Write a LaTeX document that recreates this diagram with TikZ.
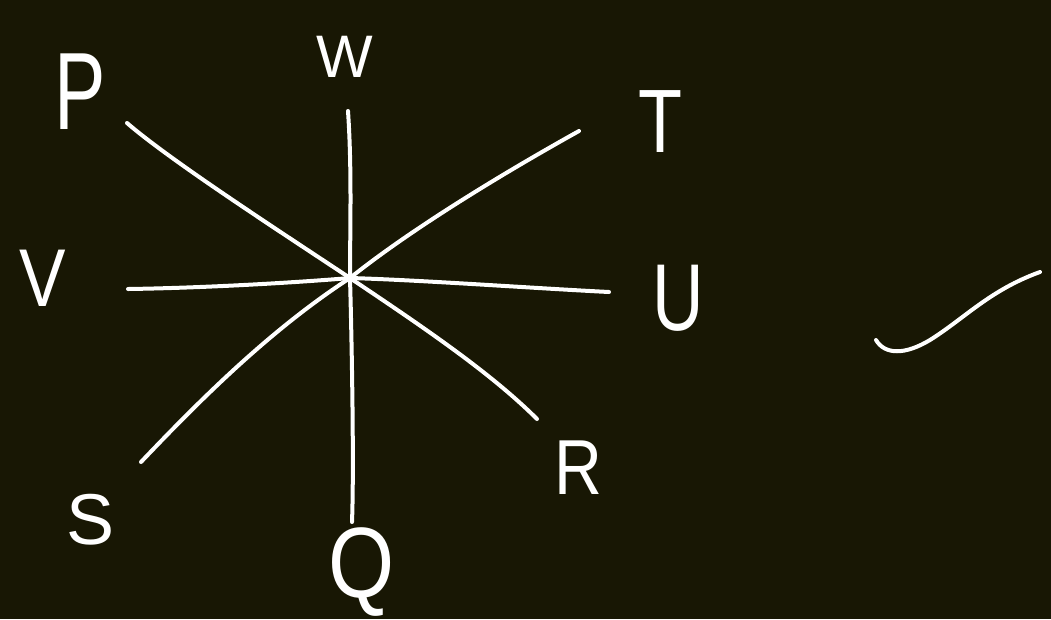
\documentclass[tikz,border=0pt]{standalone}
\usepackage{fontspec}
\setmainfont{Liberation Sans}
\definecolor{bg}{RGB}{24,23,4}
\newcommand{\fsz}[1]{\fontsize{#1}{#1}\selectfont}
\tikzset{
  stroke/.style={draw=white, line width=4pt, line cap=round, line join=round},
  lbl/.style={text=white, font=\fsz{62}, inner sep=0pt, anchor=center}
}
\begin{document}
\begin{tikzpicture}[x=1pt,y=-1pt]
\fill[bg] (0,0) rectangle (1051,619);
\useasboundingbox (0,0) rectangle (1051,619);
% centre and free ends
\coordinate (C) at (350,278);
\coordinate (eW) at (348,111);
\coordinate (eQ) at (352,522);
\coordinate (eP) at (127,123);
\coordinate (eR) at (537,419);
\coordinate (eT) at (579,131);
\coordinate (eS) at (141,462);
\coordinate (eV) at (128,289);
\coordinate (eU) at (609,292);
% rays
\draw[stroke] (eW) .. controls (352,170) and (350,230) .. (C);
\draw[stroke] (C) .. controls (352,350) and (354,470) .. (eQ);
\draw[stroke] (eP) .. controls (170,160) and (270,225) .. (C);
\draw[stroke] (C) .. controls (420,325) and (490,372) .. (eR);
\draw[stroke] (eT) .. controls (500,175) and (410,230) .. (C);
\draw[stroke] (C) .. controls (270,330) and (200,400) .. (eS);
\draw[stroke] (eV) .. controls (200,288) and (290,283) .. (C);
\draw[stroke] (C) .. controls (420,280) and (530,288) .. (eU);
% labels
\node[lbl, font=\fsz{110}, xscale=0.7] (P) at (80,92) {P};
\node[lbl, font=\fsz{60}] (W) at (345,57) {W};
\node[lbl, font=\fsz{90}, xscale=0.8] (T) at (660,122) {T};
\node[lbl, font=\fsz{82}, xscale=0.85] (V) at (43,278) {V};
\node[lbl, font=\fsz{95}, xscale=0.75] (U) at (678,298) {U};
\node[lbl, font=\fsz{72}] (S) at (91,520) {S};
\node[lbl, font=\fsz{100}, xscale=0.85] (Q) at (362,572) {Q};
\node[lbl, font=\fsz{78}, xscale=0.85] (R) at (578,468) {R};
% check mark
\coordinate (k1) at (876,340);
\coordinate (k2) at (1040,272);
\draw[stroke] (k1) .. controls (885,355) and (905,355) .. (930,340)
  .. controls (965,318) and (990,290) .. (k2);
\end{tikzpicture}
\end{document}
